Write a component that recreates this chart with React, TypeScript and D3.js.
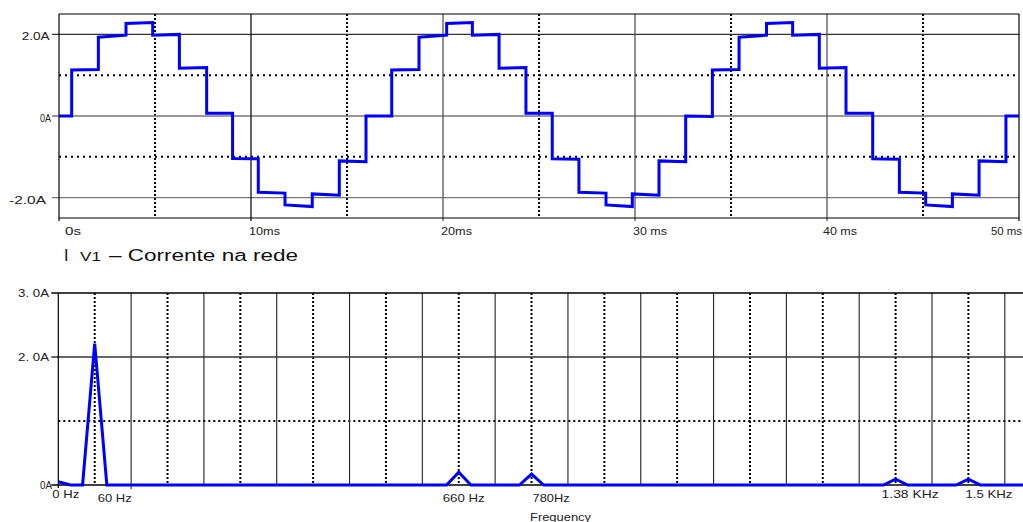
import React from "react";
import * as d3 from "d3";

// ---------- Data: line current (time domain) ----------
// plateau boundaries (ms)
const stepTimes = [
  0, 0.66, 2.05, 3.49, 4.88, 6.27, 7.69, 9.04, 10.38, 11.77, 13.19, 14.6, 15.99,
  17.33, 18.75, 20.19, 21.53, 22.92, 24.32, 25.69, 27.08, 28.49, 29.86, 31.25, 32.64, 34.03,
  35.42, 36.85, 38.21, 39.6, 40.99, 42.38, 43.77, 45.14, 46.53, 47.92, 49.32, 50,
];
// current at start and end of each plateau (A)
const levelStart = [
  0, 1.13, 1.93, 2.27, 1.98, 1.17, 0.07, -1.04, -1.87, -2.18, -1.91, -1.1, 0,
  1.13, 1.93, 2.27, 1.98, 1.17, 0.07, -1.05, -1.87, -2.18, -1.91, -1.1, 0,
  1.13, 1.93, 2.27, 1.98, 1.17, 0.07, -1.05, -1.87, -2.18, -1.91, -1.1, 0,
];
const levelEnd = [
  0, 1.14, 1.98, 2.29, 2.0, 1.19, 0.07, -1.05, -1.89, -2.22, -1.94, -1.12, 0,
  1.14, 1.98, 2.29, 2.0, 1.19, 0.07, -1.06, -1.89, -2.22, -1.94, -1.12, -0.01,
  1.14, 1.98, 2.29, 2.0, 1.19, 0.07, -1.06, -1.89, -2.22, -1.94, -1.12, 0,
];

const timeTicks = [0, 10, 20, 30, 40, 50];
const timeTickLabels = ["0s", "10ms", "20ms", "30 ms", "40 ms", "50 ms"];
const timeMinorTicks = [5, 15, 25, 35, 45];
const currentTicks = [2, 0, -2];
const currentTickLabels = ["2.0A", "0A", "-2.0A"];
const currentMinorTicks = [1, -1];

// ---------- Data: spectrum ----------
const specFreq = [0, 20, 40, 60, 80, 640, 660, 680, 760, 780, 800, 1360, 1380, 1400, 1480, 1500, 1520, 1590];
const specAmp = [0.05, 0, 0, 2.21, 0, 0, 0.2, 0, 0, 0.17, 0, 0, 0.09, 0, 0, 0.09, 0, 0];

const freqMajorGrid = [120, 240, 360, 480, 600, 720, 840, 960, 1080, 1200, 1320, 1440, 1560];
const freqDottedGrid = [60, 180, 300, 420, 540, 660, 780, 900, 1020, 1140, 1260, 1380, 1500];
const freqTicks = [0, 60, 660, 780, 1380, 1500];
const freqTickLabels = ["0 Hz", "60 Hz", "660 Hz", "780Hz", "1.38  KHz", "1.5  KHz"];
const ampTicks = [3, 2, 0];
const ampTickLabels = ["3. 0A", "2. 0A", "0A"];
const ampMinorTicks = [1];

// ---------- Styling / layout ----------
const FONT = "'Liberation Sans', Arial, sans-serif";
const ADJ = "spacingAndGlyphs";
const timeLabelStyle = [
  { dx: 6, len: 16 }, { dx: -2, len: 31 }, { dx: -2, len: 31 },
  { dx: -2, len: 34 }, { dx: -4, len: 34 }, { dx: -28, len: 31 },
];
const curLabelStyle = [
  { x0: 21.7, len: 28 }, { x0: 40, len: 11 }, { x0: 9, len: 37 },
];
const freqLabelStyle = [
  { dx: -6, len: 27, by: 497.5 }, { dx: 3, len: 34, by: 501.5 }, { dx: -16, len: 42, by: 501.5 },
  { dx: 1, len: 37, by: 501.5 }, { dx: -14, len: 57, by: 498 }, { dx: -3, len: 47, by: 498 },
];
const ampLabelStyle = [
  { x0: 18, len: 31 }, { x0: 18, len: 31 }, { x0: 40, len: 12 },
];

export default function App() {
  // top chart scales
  const xT = d3.scaleLinear().domain([0, 50]).range([59, 1019]);
  const yT = d3.scaleLinear().domain([-2.5, 2.5]).range([218, 14]);
  // bottom chart scales
  const xF = d3.scaleLinear().domain([0, 1590]).range([58.3, 1023]);
  const yF = d3.scaleLinear().domain([0, 3]).range([485, 293]);

  const wavePts: [number, number][] = [];
  for (let i = 0; i < levelStart.length; i++) {
    wavePts.push([stepTimes[i], levelStart[i]]);
    wavePts.push([stepTimes[i + 1], levelEnd[i]]);
  }
  const waveLine = d3.line<[number, number]>().x((d) => xT(d[0])).y((d) => yT(d[1]))(wavePts) || "";

  const specPts: [number, number][] = specFreq.map((f, i) => [f, specAmp[i]]);
  const specLine = d3.line<[number, number]>().x((d) => xF(d[0])).y((d) => yF(d[1]))(specPts) || "";

  const [tx0, tx1] = xT.range();
  const [fx0] = xF.range();

  return (
    <svg
      width={1023}
      height={522}
      style={{ position: "absolute", left: 0, top: 0, background: "#fff" }}
      fontFamily={FONT}
    >
      <rect x={0} y={0} width={1023} height={522} fill="#fff" />
      {/* ===== TOP CHART ===== */}
      {currentMinorTicks.map((v) => (
        <line key={"hm" + v} x1={tx0} x2={tx1} y1={yT(v)} y2={yT(v)} stroke="#000" strokeWidth={2} strokeDasharray="2,4" />
      ))}
      {timeMinorTicks.map((t) => (
        <line key={"vm" + t} x1={xT(t)} x2={xT(t)} y1={yT(2.5)} y2={yT(-2.5)} stroke="#000" strokeWidth={2} strokeDasharray="2,2" />
      ))}
      {currentTicks.map((v) => (
        <line key={"hg" + v} x1={tx0 - 7} x2={tx1} y1={yT(v)} y2={yT(v)} stroke={v === 2 ? "#333" : "#777"} strokeWidth={1.3} />
      ))}
      {timeTicks.slice(1, 5).map((t, i) => (
        <line key={"vg" + t} x1={xT(t)} x2={xT(t)} y1={yT(2.5)} y2={yT(-2.5) + 3} stroke={i === 0 ? "#111" : "#555"} strokeWidth={1.3} />
      ))}
      <line x1={tx0} x2={tx1} y1={yT(2.5)} y2={yT(2.5)} stroke="#000" strokeWidth={1.2} />
      <line x1={tx0} x2={tx1} y1={yT(-2.5)} y2={yT(-2.5)} stroke="#000" strokeWidth={1.2} />
      <line x1={tx0} x2={tx0} y1={yT(2.5)} y2={yT(-2.5) + 3} stroke="#000" strokeWidth={1.2} />
      <line x1={tx1} x2={tx1} y1={yT(2.5)} y2={yT(-2.5) + 3} stroke="#000" strokeWidth={1.2} />
      {currentTicks.map((v, i) => (
        <text key={"cl" + v} x={curLabelStyle[i].x0} y={yT(v) + 6} fontSize={10.5} fill="#222"
          textLength={curLabelStyle[i].len} lengthAdjust={ADJ}>{currentTickLabels[i]}</text>
      ))}
      {timeTicks.map((t, i) => (
        <text key={"tl" + t} x={xT(t) + timeLabelStyle[i].dx} y={234.5} fontSize={11.5} fill="#222"
          textLength={timeLabelStyle[i].len} lengthAdjust={ADJ}>{timeTickLabels[i]}</text>
      ))}
      <path d={waveLine} fill="none" stroke="#0000ff" strokeWidth={3} strokeLinejoin="miter" />

      {/* title */}
      <text x={64} y={261} fontSize={16} fill="#111">I</text>
      <text x={80} y={261} fontSize={12.5} fill="#111" textLength={21} lengthAdjust={ADJ}>V1</text>
      <text x={109} y={261} fontSize={16} fill="#111" textLength={189} lengthAdjust={ADJ}>– Corrente na rede</text>

      {/* ===== BOTTOM CHART ===== */}
      {ampMinorTicks.map((v) => (
        <line key={"fhm" + v} x1={fx0} x2={1023} y1={yF(v)} y2={yF(v)} stroke="#000" strokeWidth={2} strokeDasharray="2,3" />
      ))}
      {freqDottedGrid.map((f) => (
        <line key={"fdg" + f} x1={xF(f)} x2={xF(f)} y1={yF(3)} y2={yF(0)} stroke="#000" strokeWidth={2} strokeDasharray="2,2" />
      ))}
      {freqMajorGrid.map((f) => (
        <line key={"fmg" + f} x1={xF(f)} x2={xF(f)} y1={yF(3)} y2={yF(0) + (f === 120 ? 4 : 0)} stroke="#222" strokeWidth={1.1} />
      ))}
      {ampTicks.map((v) => (
        <line key={"fhg" + v} x1={fx0 - 7} x2={1023} y1={yF(v)} y2={yF(v)} stroke={v === 2 ? "#333" : "#000"} strokeWidth={1.3} />
      ))}
      <line x1={fx0} x2={fx0} y1={yF(3)} y2={yF(0) + 3} stroke="#000" strokeWidth={1.2} />
      {ampTicks.map((v, i) => (
        <text key={"al" + v} x={ampLabelStyle[i].x0} y={yF(v) + 4} fontSize={10.5} fill="#222"
          textLength={ampLabelStyle[i].len} lengthAdjust={ADJ}>{ampTickLabels[i]}</text>
      ))}
      {freqTicks.map((f, i) => (
        <text key={"fl" + f} x={xF(f) + freqLabelStyle[i].dx} y={freqLabelStyle[i].by} fontSize={11} fill="#222"
          textLength={freqLabelStyle[i].len} lengthAdjust={ADJ}>{freqTickLabels[i]}</text>
      ))}
      <text x={530} y={521} fontSize={10} fill="#222" textLength={61} lengthAdjust={ADJ}>Frequency</text>
      <path d={specLine} fill="none" stroke="#0000ff" strokeWidth={3} strokeLinejoin="miter" />
    </svg>
  );
}
